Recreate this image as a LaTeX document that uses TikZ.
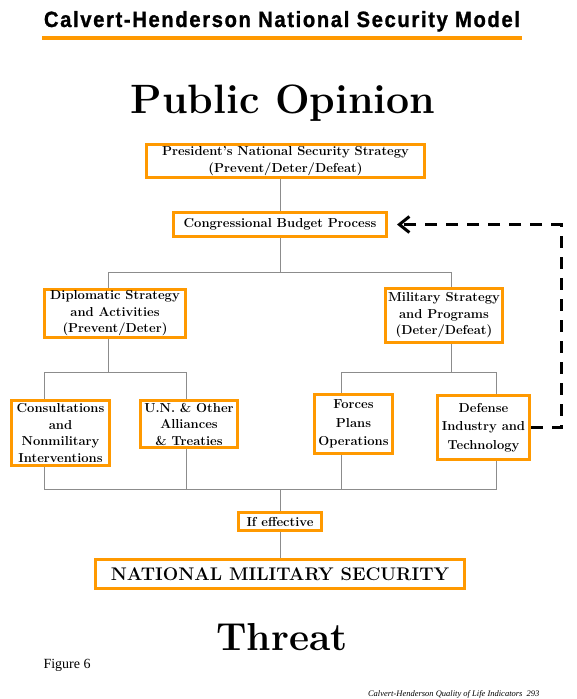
\documentclass[tikz,border=0pt]{standalone}
\usepackage{fontspec}
\usepackage{graphicx}
\usepackage{xcolor}
\usepackage{tikz}
\usetikzlibrary{arrows.meta,positioning,calc,backgrounds}
\newfontfamily\headfont{Liberation Sans}[LetterSpace=8,BoldFeatures={FakeBold=1.2}]
\newfontfamily\capfont{Liberation Serif}
\definecolor{boxorange}{RGB}{255,153,0}
\definecolor{linkgray}{RGB}{140,140,140}

\begin{document}
\begin{tikzpicture}[
x=1pt,
y=-1pt,
every node/.style={font=\fontsize{13}{16.5}\selectfont\bfseries},
unitbox/.style={rectangle,draw=boxorange,line width=3pt,fill=white,align=center,inner sep=0.5pt},
tallbox/.style={unitbox,font=\fontsize{13}{18.5}\selectfont\bfseries},
bigword/.style={font=\fontsize{39}{44}\selectfont\bfseries,anchor=base},
link/.style={draw=linkgray,line width=0.9pt},
feedback/.style={draw=black,line width=3pt,dash pattern=on 12pt off 9pt,-{Straight Barb[length=10pt,width=16pt]}}
]
\useasboundingbox (0,0) rectangle (576,699);

% heading
\node[inner sep=0,anchor=base] (title) at (282,27) {\resizebox{476pt}{16pt}{\headfont\bfseries Calvert-Henderson National Security Model}};
\draw[draw=boxorange,line width=4pt] (42,38) -- (522,38);
\node[bigword,font=\fontsize{41}{46}\selectfont\bfseries] (opinion) at (283,113) {Public Opinion};

% strategy level
\node[unitbox,minimum width=278pt,minimum height=33pt] (president) at (285.5,161) {President's National Security Strategy\\(Prevent/Deter/Defeat)};
\node[unitbox,minimum width=213pt,minimum height=24pt] (congress) at (280,224.5) {Congressional Budget Process};

\node[unitbox,minimum width=141pt,minimum height=48pt] (diplomatic) at (115,313.5) {Diplomatic Strategy\\and Activities\\(Prevent/Deter)};
\node[unitbox,minimum width=117pt,minimum height=54pt] (military) at (444,315.5) {Military Strategy\\and Programs\\(Deter/Defeat)};

% programs level
\node[unitbox,minimum width=98pt,minimum height=65pt] (consult) at (60.5,433) {Consultations\\and\\Nonmilitary\\Interventions};
\node[unitbox,minimum width=97pt,minimum height=47pt] (alliance) at (189,424) {U.N. \& Other\\Alliances\\\& Treaties};
\node[tallbox,minimum width=78pt,minimum height=59pt] (forces) at (353.5,424) {Forces\\Plans\\Operations};
\node[tallbox,minimum width=92pt,minimum height=64pt] (defense) at (483.5,427.5) {Defense\\Industry and\\Technology};

% outcome
\node[unitbox,minimum width=83pt,minimum height=18pt] (effective) at (280,521.5) {If effective};
\node[unitbox,minimum width=369pt,minimum height=29pt,font=\fontsize{18.3}{21}\selectfont\bfseries] (security) at (280,574) {NATIONAL MILITARY SECURITY};
\node[bigword] (threat) at (282,650) {Threat};

\node[font=\capfont\fontsize{14}{16}\selectfont,anchor=base west] (figlabel) at (40,668) {Figure 6};
\node[font=\capfont\itshape\fontsize{8.5}{10}\selectfont,anchor=base east] (footer) at (543,696) {Calvert-Henderson Quality of Life Indicators\enspace 293};

% tree connectors
\coordinate (topL) at (108,272);
\coordinate (topR) at (451,272);
\coordinate (dipL) at (44,372);
\coordinate (dipR) at (186,372);
\coordinate (milL) at (341,372);
\coordinate (milR) at (496,372);
\coordinate (baseL) at (44,489);
\coordinate (baseR) at (496,489);

\begin{scope}[on background layer]
\draw[link] (congress.north) -- (congress.north |- president.south);
\draw[link] (congress.south) -- (congress.south |- topL);
\draw[link] (topL |- diplomatic.north) -- (topL) -- (topR) -- (topR |- military.north);
\draw[link] (topL |- diplomatic.south) -- (topL |- dipL);
\draw[link] (dipL |- consult.north) -- (dipL) -- (dipR) -- (dipR |- alliance.north);
\draw[link] (topR |- military.south) -- (topR |- milL);
\draw[link] (milL |- forces.north) -- (milL) -- (milR) -- (milR |- defense.north);
\draw[link] (dipL |- consult.south) -- (baseL) -- (baseR) -- (milR |- defense.south);
\draw[link] (dipR |- alliance.south) -- (dipR |- baseL);
\draw[link] (milL |- forces.south) -- (milL |- baseL);
\draw[link] (effective.north) -- (effective.north |- baseL);
\draw[link] (effective.south) -- (security.north);
\end{scope}

% budget feedback
\draw[feedback] (defense.east) -- ++(30,0) |- ([xshift=9pt]congress.east);
\end{tikzpicture}
\end{document}
